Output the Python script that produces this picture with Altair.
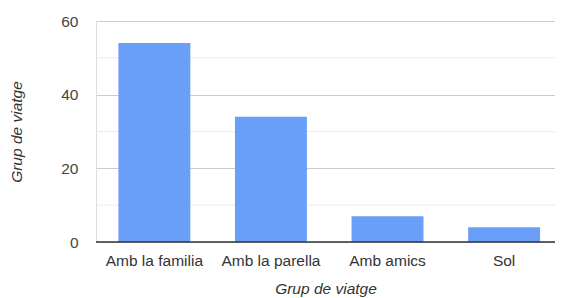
import altair as alt
import pandas as pd

categories = ["Amb la familia", "Amb la parella", "Amb amics", "Sol"]
values = [54, 34, 7, 4]
y_ticks = [0, 20, 40, 60]
minor_ticks = [10, 30, 50]

df = pd.DataFrame({"grup": categories, "n": values})
grid_df = pd.DataFrame({"v": minor_ticks})

FONT = "Liberation Sans"
FS = 15.5

y_scale = alt.Scale(domain=[0, 60], nice=False)

minor = alt.Chart(grid_df).mark_rule(color="#ebebeb", strokeWidth=1).encode(
    y=alt.Y("v:Q", scale=y_scale)
)

bars = alt.Chart(df).mark_bar(color="#699ff8").encode(
    x=alt.X(
        "grup:N",
        sort=categories,
        scale=alt.Scale(paddingInner=0.383, paddingOuter=0.16, align=0.6),
        axis=alt.Axis(
            title="Grup de viatge",
            labelAngle=0,
            ticks=False,
            domain=False,
            labelPadding=11,
            labelFontSize=FS,
            labelColor="#333333",
            labelFont=FONT,
            titleFont=FONT,
            titleFontSize=FS,
            titleFontStyle="italic",
            titleFontWeight="normal",
            titleColor="#333333",
            titlePadding=13,
        ),
    ),
    y=alt.Y(
        "n:Q",
        scale=y_scale,
        axis=alt.Axis(
            title="Grup de viatge",
            values=y_ticks,
            ticks=False,
            domain=False,
            gridColor="#cccccc",
            labelPadding=18,
            labelFontSize=FS,
            labelColor="#444444",
            labelFont=FONT,
            titleFont=FONT,
            titleFontSize=FS,
            titleFontStyle="italic",
            titleFontWeight="normal",
            titleColor="#333333",
            titlePadding=36,
        ),
    ),
)

baseline = alt.Chart(pd.DataFrame({"v": [0]})).mark_rule(color="#333333", strokeWidth=1.5).encode(
    y=alt.Y("v:Q", scale=y_scale)
)

chart = (
    alt.layer(minor, bars, baseline)
    .properties(
        width=459,
        height=221,
        autosize=alt.AutoSizeParams(type="none"),
        padding={"left": 88, "top": 13, "right": 0, "bottom": 56},
    )
    .configure_view(stroke=None)
    .configure(background="white")
)

chart.save("out.html", embed_options={"renderer": "svg", "actions": False})
